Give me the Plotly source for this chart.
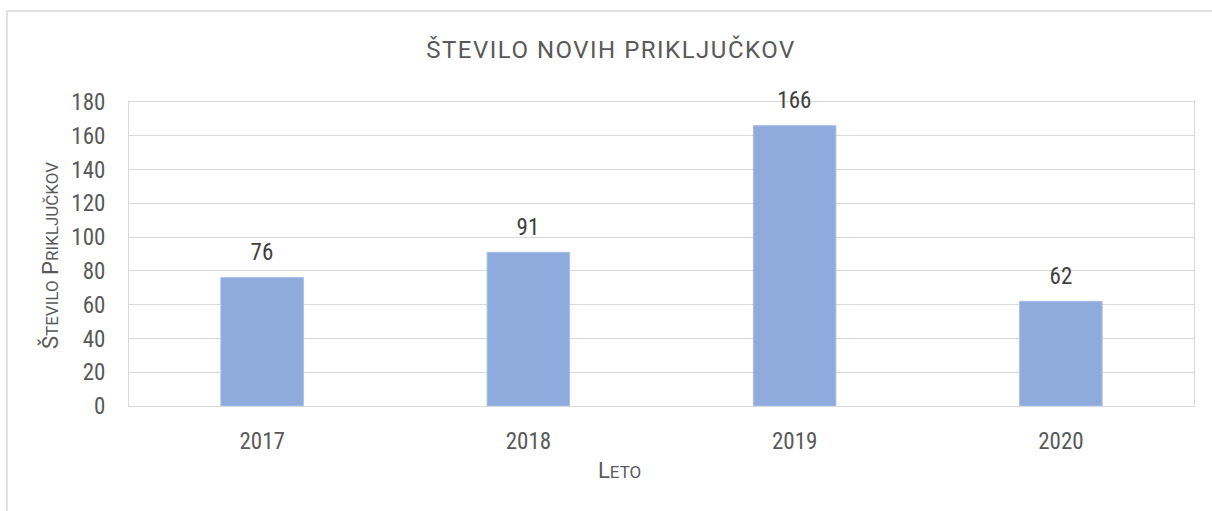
import plotly.graph_objects as go

years = ["2017", "2018", "2019", "2020"]
connections = [76, 91, 166, 62]
y_ticks = [0, 20, 40, 60, 80, 100, 120, 140, 160, 180]

title_text = "ŠTEVILO NOVIH PRIKLJUČKOV"
x_title_html = "L<span style='font-size:17px'>ETO</span>"
y_title_html = ("Š<span style='font-size:17px'>TEVILO</span> "
                "P<span style='font-size:17px'>RIKLJUČKOV</span>")

FONT = "Roboto, Liberation Sans, Arial, sans-serif"
TXT = "#595959"
GRID = "#D9D9D9"

W, H = 1212, 511
L, R, T, B = 129, 18, 102, 105
pw, ph = W - L - R, H - T - B

def px_x(x):
    return (x - L) / pw

def px_y(y):
    return (H - B - y) / ph

fig = go.Figure(go.Bar(
    x=years, y=connections,
    marker=dict(color="#8FAADC", line=dict(color="#A9BFE6", width=1)),
    width=0.31,
    hoverinfo="x+y",
))

label_anns = [
    dict(x=i, y=v, xref="x", yref="y", text=str(v), showarrow=False,
         yanchor="middle", yshift=25,
         font=dict(family=FONT, size=23, color="#404040"))
    for i, v in enumerate(connections)
]

fig.update_layout(
    width=W, height=H,
    margin=dict(l=L, r=R, t=T, b=B),
    paper_bgcolor="white", plot_bgcolor="white",
    showlegend=False,
    font=dict(family=FONT, color=TXT),
    title=dict(text=title_text, xref="container", yref="container",
               x=611 / W, y=1 - 50 / H, xanchor="center", yanchor="middle",
               font=dict(family=FONT, size=24, color=TXT)),
    xaxis=dict(type="category", range=[-0.5, len(years) - 0.5], showgrid=False,
               showline=True, linecolor=GRID, linewidth=1, mirror=True, ticks="",
               tickfont=dict(size=23, color=TXT), ticklabelstandoff=14),
    yaxis=dict(range=[0, 180], tickvals=y_ticks, showgrid=True, gridcolor=GRID,
               gridwidth=1, showline=True, linecolor=GRID, linewidth=1, mirror=True,
               zeroline=False, ticks="", tickfont=dict(size=23, color=TXT),
               ticklabelstandoff=18),
    annotations=label_anns + [
        dict(text=x_title_html, xref="paper", yref="paper", x=px_x(619), y=px_y(470),
             xanchor="center", yanchor="middle", showarrow=False,
             font=dict(family=FONT, size=22, color=TXT)),
        dict(text=y_title_html, xref="paper", yref="paper", x=px_x(50), y=px_y(256),
             xanchor="center", yanchor="middle", showarrow=False, textangle=-90,
             font=dict(family=FONT, size=22, color=TXT)),
    ],
    shapes=[
        dict(type="rect", xref="paper", yref="paper",
             x0=px_x(7), x1=px_x(1216), y0=px_y(516), y1=px_y(11),
             line=dict(color=GRID, width=1.5), fillcolor="rgba(0,0,0,0)", layer="below"),
    ],
)

post = """
document.body.style.margin='0';
document.body.style.overflow='hidden';
var st=document.createElement('style');
st.textContent='svg text{font-stretch:80% !important;}'
 + ' .gtitle{font-stretch:100% !important; letter-spacing:1.5px;}'
 + ' .annotation[data-index="4"] text, .annotation[data-index="5"] text{font-stretch:92% !important;}';
document.head.appendChild(st);
"""

fig.write_html("out.html", post_script=post, config={"displayModeBar": False})
